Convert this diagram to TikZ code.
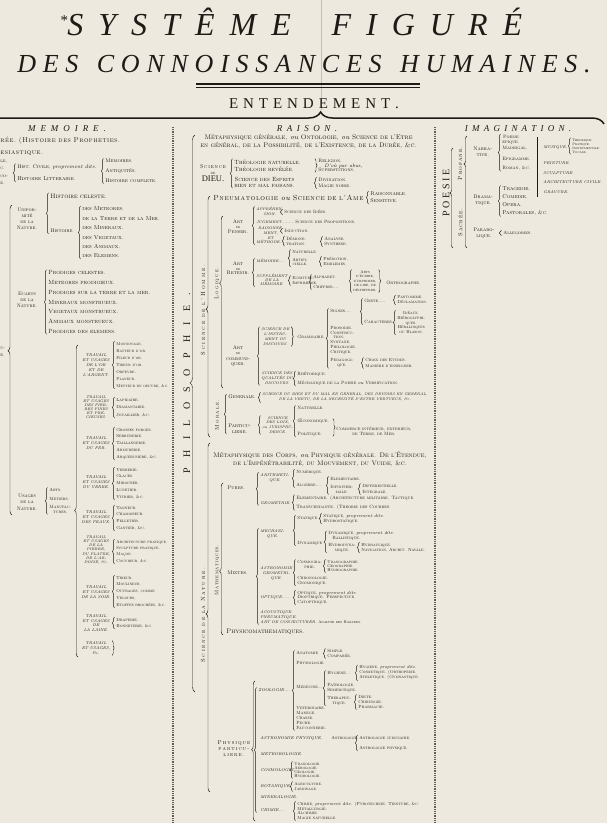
\documentclass[tikz,border=0pt]{standalone}
\usepackage{fontspec}
\newfontfamily\tms{Liberation Serif}
\usetikzlibrary{calc,decorations.pathreplacing}
\definecolor{paper}{RGB}{237,233,222}
\definecolor{ink}{RGB}{30,26,22}
\definecolor{fold}{RGB}{196,189,176}

\ExplSyntaxOn
\NewDocumentCommand \spaced { O{0.3em} m m }
  {
    \seq_set_split:Nnn \l_tmpa_seq { ~ } { #3 }
    \seq_clear:N \l_tmpb_seq
    \seq_map_inline:Nn \l_tmpa_seq
      {
        \tl_clear:N \l_tmpa_tl
        \tl_map_inline:nn { ##1 } { \tl_put_right:Nn \l_tmpa_tl { ####1 \hspace{#2} } }
        \seq_put_right:NV \l_tmpb_seq \l_tmpa_tl
      }
    \seq_use:Nn \l_tmpb_seq { \hspace{#1} }
    \unskip
  }
\ExplSyntaxOff

\newcommand\pdit[1]{{\normalfont\itshape #1}}

\tikzset{
  lft/.style={anchor=west, inner sep=0.2pt, text=ink},
  lblk/.style={lft, align=left},
  cblk/.style={lft, align=center},
  ctr/.style={anchor=center, align=center, inner sep=0.2pt, text=ink},
  scf/.style 2 args={font=\fontsize{#1}{#2}\selectfont\scshape},
  itf/.style 2 args={font=\fontsize{#1}{#2}\selectfont\itshape},
  br/.style={decorate, decoration={brace, amplitude=#1}, draw=ink, line width=0.45pt},
  br/.default=2,
  sepline/.style={draw=ink!70, line width=1.4pt, dash pattern=on 0.9pt off 0.9pt},
}

% brace opening to the right, from the top of #2 to the bottom of #3
\newcommand\brc[3][0.5]{\draw[br,decoration={aspect=#1}]
  ($(#2.north west |- #3.south)+(-1.6,0.6)$) -- ($(#2.north west)+(-1.6,-0.6)$);}
% closing brace after #1
\newcommand\brcr[2]{\draw[br]
  ($(#1.north east)+(1.6,-0.6)$) -- ($(#1.north east |- #2.south)+(1.6,0.6)$);}

\begin{document}
\begin{tikzpicture}[x=1pt,y=-1pt]
\fill[paper] (0,0) rectangle (607,823);
\useasboundingbox (0,0) rectangle (607,823);
\clip (0,0) rectangle (607,823);

% title
\draw[fold, line width=0.6pt] (321,0) -- (321,110);
\node[anchor=base, text=ink, font=\fontsize{32}{32}\selectfont\tms\itshape] (sys) at (291,35)
  {{\fontsize{15}{15}\selectfont\raisebox{10pt}{*}}\spaced[0.8em]{0.47em}{SYSTÊME FIGURÉ}};
\node[anchor=base, text=ink, font=\fontsize{26}{26}\selectfont\tms\itshape] (dcon) at (304,72)
  {\spaced[0.45em]{0.26em}{DES CONNOISSANCES HUMAINES.}};
\draw[ink, line width=1.1pt] (196,84) -- (420,84);
\draw[ink, line width=0.5pt] (196,87.2) -- (420,87.2);
\node[anchor=base, text=ink, font=\fontsize{15}{15}\selectfont\tms] (ente) at (314,108)
  {\spaced{0.33em}{ENTENDEMENT.}};
\draw[ink, line width=1.5pt, decorate, decoration={brace, amplitude=12pt, aspect=0.56}]
  (-40,124) -- (604,124);

\node[anchor=base, text=ink, font=\fontsize{9}{9}\selectfont\tms\itshape] (memt) at (67,131) {\spaced{0.55em}{MEMOIRE.}};
\node[anchor=base, text=ink, font=\fontsize{9}{9}\selectfont\tms\itshape] (rait) at (307,131) {\spaced{0.5em}{RAISON.}};
\node[anchor=base, text=ink, font=\fontsize{9}{9}\selectfont\tms\itshape] (imat) at (518,131) {\spaced{0.47em}{IMAGINATION.}};

\draw[sepline] (173,127) -- (173,823);
\draw[sepline] (435,127) -- (435,823);

% ---------------- MEMOIRE
\node[lft, scf={7}{8}] (proph) at (0,141) {\spaced[2.2pt]{0.5pt}{rée. (Histoire des Propheties.}};
\node[lft, scf={7}{8}] (eccl) at (0,153) {\spaced{0.5pt}{esiastique.}};
\node[lft, scf={4.8}{5}] (frl) at (0,162) {le,};
\node[lft, scf={4.8}{5}] (frc) at (0,168) {c.};
\node[lft, scf={4.8}{5}] (frco) at (0,176) {co-};
\node[lft, scf={4.8}{5}] (fre) at (0,183) {e.};
\node[lft, scf={5.2}{6}] (hciv) at (17,167) {Hist. Civile, \pdit{proprement dite.}};
\node[lft, scf={5.6}{6}] (hlit) at (17,179) {Histoire Litteraire.};
\brc{hciv}{hlit}
\node[lblk, scf={5.3}{9.8}] (memr) at (105,171) {Memoires.\\Antiquités.\\Histoire complete.};
\brc{memr}{memr}

\node[ctr, scf={5}{6}] (unif) at (27,219) {Unifor-\\mité\\de la\\Nature.};
\node[lft, scf={6.4}{7}] (hcel) at (50,196) {Histoire celeste.};
\node[lft, scf={5.2}{6}] (hist) at (50,231) {Histoire};
\brc{hcel}{hist}
\node[lblk, scf={5.7}{9.4}] (hnat) at (82,232.5)
  {des Meteores.\\de la Terre et de la Mer.\\des Mineraux.\\des Vegetaux.\\des Animaux.\\des Elemens.};
\brc{hnat}{hnat}

\node[ctr, scf={5}{6}] (ecar) at (27,300) {Ecarts\\de la\\Nature.};
\node[lblk, scf={6}{9.7}] (prod) at (48,302)
  {Prodiges celestes.\\Meteores prodigieux.\\Prodiges sur la terre et la mer.\\Mineraux monstrueux.\\Vegetaux monstrueux.\\Animaux monstrueux.\\Prodiges des elemens.};
\brc{prod}{prod}

\node[lft, scf={4.8}{5}] (hnu) at (0,348) {u-};
\node[lft, scf={4.8}{5}] (hne) at (0,355) {e.};
\coordinate (hnT) at (12,205);
\coordinate (hnB) at (12,515);
\draw[br=4, decoration={aspect=0.53}] (hnB) -- (hnT);

\node[ctr, scf={5}{6.5}] (usag) at (27,502) {Usages\\de la\\Nature.};
\node[lft, scf={4.5}{5}] (arts) at (49,490) {Arts.};
\node[lft, scf={4.5}{5}] (meti) at (49,499) {Metiers.};
\node[cblk, scf={4.5}{4.6}] (manu) at (49,509.5) {Manufac-\\tures.};
\brc{arts}{manu}
\coordinate (trT) at (78,345);
\coordinate (trB) at (78,657);
\draw[br=3.5, decoration={aspect=0.47}] (trB) -- (trT);

\node[ctr, itf={4}{5}] (tor) at (96,365) {TRAVAIL\\ET USAGES\\DE L'OR\\ET DE\\L'ARGENT.};
\node[lblk, scf={4.2}{7}] (lor) at (116,365)
  {Monnoyage.\\Batteur d'or.\\Fileur d'or.\\Tireur d'or.\\Orfevre.\\Planeur.\\Metteur en oeuvre, \&c.};
\brc{lor}{lor}
\node[ctr, itf={3.8}{4.1}] (tpi) at (96,407) {TRAVAIL\\ET USAGES\\DES PIER-\\RES FINES\\ET PRE-\\CIEUSES.};
\node[lblk, scf={4.4}{7.5}] (lpi) at (116,407.5) {Lapidaire.\\Diamantaire.\\Jouaillier, \&c.};
\brc{lpi}{lpi}
\node[ctr, itf={4}{5}] (tfe) at (96,443) {TRAVAIL\\ET USAGES\\DU FER.};
\node[lblk, scf={4.4}{6.75}] (lfe) at (116,443.5)
  {Grosses forges.\\Serrurerie.\\Taillanderie.\\Armurerie.\\Arquebusiere, \&c.};
\brc{lfe}{lfe}
\node[ctr, itf={4}{5}] (tve) at (96,482) {TRAVAIL\\ET USAGES\\DU VERRE.};
\node[lblk, scf={4.4}{6.75}] (lve) at (116,483.5) {Verrerie.\\Glaces.\\Miroitier.\\Lunetier.\\Vitrier, \&c.};
\brc{lve}{lve}
\node[ctr, itf={4}{5}] (tpe) at (96,517) {TRAVAIL\\ET USAGES\\DES PEAUX.};
\node[lblk, scf={4.4}{6.7}] (lpe) at (116,518) {Tanneur.\\Chamoiseur.\\Pelletier.\\Gantier, \&c.};
\brc{lpe}{lpe}
\node[ctr, itf={3.8}{4.3}] (tpr) at (96,550) {TRAVAIL\\ET USAGES\\DE LA\\PIERRE,\\DU PLATRE,\\DE L'AR-\\DOISE, \&c.};
\node[lblk, scf={4.2}{6.3}] (lpr) at (116,551.5) {Architecture pratique.\\Sculpture pratique.\\Maçon.\\Couvreur, \&c.};
\brc{lpr}{lpr}
\node[ctr, itf={4}{5}] (tso) at (96,592) {TRAVAIL\\ET USAGES\\DE LA SOIE.};
\node[lblk, scf={4.3}{6.75}] (lso) at (116,591.5) {Tireur.\\Moulineur.\\Ouvrages, comme\\Velours,\\Etoffes brochées, \&c.};
\brc{lso}{lso}
\node[ctr, itf={4}{4.7}] (tla) at (96,623) {TRAVAIL\\ET USAGES\\DE\\LA LAINE.};
\node[lblk, scf={4.4}{6}] (lla) at (116,623) {Draperie.\\Bonneterie, \&c.};
\brc{lla}{lla}
\node[ctr, itf={4}{5}] (tetc) at (96,648) {TRAVAIL\\ET USAGES,\\\&c.};
\brcr{tetc}{tetc}

% ---------------- RAISON
\node[ctr, rotate=90, font=\fontsize{10}{10}\selectfont\tms] (philo) at (187,383) {\spaced[0.4em]{10.3pt}{PHILOSOPHIE.}};
\coordinate (phT) at (195,135);
\coordinate (phB) at (195,692);
\draw[br=5, decoration={aspect=0.555}] (phB) -- (phT);

\node[cblk, scf={6.7}{7.2}] (meta) at (200,141.5)
  {Métaphysique générale, \pdit{ou} Ontologie, \pdit{ou} Science de l'Etre\\en général, de la Possibilité, de l'Existence, de la Durée, \&c.};
\node[ctr, scf={5.5}{6.5}] (sdieu) at (213,173)
  {\spaced{0.8pt}{Science}\\{\fontsize{4}{5}\selectfont de}\\{\normalfont\tms\fontsize{8.5}{8}\selectfont DIEU.}};
\node[lblk, scf={6}{7}] (theo) at (234,165.5) {Théologie naturelle.\\Théologie revélée.};
\node[cblk, scf={6}{6}] (espr) at (234,182) {Science des Esprits\\bien et mal faisans.};
\brc{theo}{espr}
\node[lblk, scf={5}{4.6}] (relg) at (318,165.5) {Religion,\\\hspace*{6pt}\pdit{D'où par abus,}\\Superstitions.};
\draw[br] ($(relg.north west)+(-3,0)$) -- ($(relg.south west)+(-3,0)$);
\node[lblk, scf={5}{6}] (divn) at (318,183) {Divination.\\Magie noire.};
\brc{divn}{divn}

\node[ctr, rotate=90, scf={6}{6}] (sdho) at (203,310) {\spaced[2pt]{1.8pt}{Science de l'Homme.}};
\coordinate (shT) at (210,196);
\coordinate (shB) at (210,437);
\draw[br=4, decoration={aspect=0.53}] (shB) -- (shT);
\node[lft, scf={7.4}{8}] (pneu) at (213,198) {\spaced{0.6pt}{Pneumatologie} \pdit{ou} \spaced[2pt]{0.6pt}{Science de l'Ame}};
\node[lblk, scf={5.5}{7}] (rsen) at (370,197.5) {Raisonnable.\\Sensitive.};
\brc{rsen}{rsen}

\node[ctr, rotate=90, scf={5.5}{6}] (logi) at (217,283) {\spaced{1.2pt}{Logique.}};
\coordinate (lgT) at (223,216);
\coordinate (lgB) at (223,388);
\draw[br=3.5, decoration={aspect=0.61}] (lgB) -- (lgT);

\node[ctr, scf={5.2}{5}] (apen) at (238,227) {Art\\{\fontsize{3.6}{5}\selectfont de}\\Penser.};
\node[cblk, itf={3.8}{4.6}] (appr) at (256,211.5) {APPRÉHEN-\\SION.};
\node[lft, itf={3.8}{4.6}] (jug) at (256,222) {JUGEMENT.........};
\node[cblk, itf={3.8}{4.6}] (rmet) at (256,235.5) {RAISONNE-\\MENT,\\ET\\MÉTHODE....};
\brc{appr}{rmet}
\node[lft, scf={4.6}{5}] (sidee) at (284,212) {Science des Idées.};
\brc{sidee}{sidee}
\node[lft, scf={4.6}{5}] (sprop) at (295,222) {Science des Propositions.};
\node[lft, scf={4.6}{5}] (indu) at (284,231) {Induction.};
\brc{indu}{indu}
\node[cblk, scf={4.6}{4.6}] (demo) at (286,241) {Démons-\\tration.};
\brc{demo}{demo}
\node[lblk, scf={4.6}{5}] (anal) at (324,241.5) {Analyse.\\Synthese.};
\brc{anal}{anal}

\node[ctr, scf={5.2}{4.6}] (aret) at (238,268.5) {Art\\{\fontsize{3.6}{4.6}\selectfont de}\\Retenir.};
\node[lft, itf={3.8}{4.6}] (memo) at (256,261) {MÉMOIRE....};
\node[cblk, itf={3.8}{4}] (supm) at (256,280) {SUPPLÉMENT\\DE LA\\MÉMOIRE.};
\brc{memo}{supm}
\node[lft, scf={4.4}{5}] (natm) at (292,252) {Naturelle.};
\node[cblk, scf={4.4}{4.6}] (artm) at (292,262) {Artifi-\\cielle.};
\brc{natm}{artm}
\node[lblk, scf={4.4}{5}] (pren) at (323,261.5) {Prénotion.\\Emblemes.};
\brc{pren}{pren}
\node[lblk, scf={4.4}{5}] (ecri) at (292,280.5) {Ecriture.\\Imprimerie.};
\brc{ecri}{ecri}
\node[lft, scf={4.4}{5}] (alph) at (313,277) {Alphabet.};
\node[lft, scf={4.4}{5}] (chif) at (313,287) {Chiffres....};
\brc{alph}{chif}
\node[cblk, scf={4}{4.5}] (adec) at (353,281) {Arts\\d'écrire,\\d'imprimer,\\de lire, de\\déchiffrer.};
\brc{adec}{adec}
\node[lft, scf={4.8}{5}] (orth) at (386,283) {Orthographe.};
\brcr{adec}{adec}

\node[ctr, scf={5.2}{5.3}] (acom) at (238,356) {Art\\{\fontsize{3.6}{5.3}\selectfont de}\\communi-\\quer.};
\node[cblk, itf={3.8}{5}] (sins) at (261,336.5) {SCIENCE DE\\L'INSTRU-\\MENT DU\\DISCOURS.};
\node[cblk, itf={3.8}{5}] (squa) at (261,378) {SCIENCE DES\\QUALITÉS DU\\DISCOURS.};
\brc{sins}{squa}
\node[lft, scf={4.6}{5}] (gram) at (297,337) {Grammaire.};
\brcr{sins}{sins}
\node[lft, scf={4.6}{5}] (sign) at (330,311) {Signes....};
\node[lblk, scf={4.5}{4.8}] (pros) at (330,340) {Prosodie.\\Construc-\\\hspace*{3pt}tion.\\Syntaxe.\\Philologie.\\Critique.};
\node[cblk, scf={4.5}{5}] (peda) at (330,363) {Pedagogi-\\que.};
\brc{sign}{peda}
\node[lft, scf={4.6}{5}] (gest) at (364,301) {Geste.....};
\node[lft, scf={4.6}{5}] (cara) at (364,322) {Caracteres...};
\brc{gest}{cara}
\node[lblk, scf={4.4}{5}] (pant) at (397,300) {Pantomime.\\Déclamation.};
\brc{pant}{pant}
\node[cblk, scf={4.3}{4.8}] (idea) at (397,322.5) {Idéaux.\\Hiéroglyphi-\\ques.\\Héraldiques\\ou Blason.};
\brc{idea}{idea}
\node[lblk, scf={4.4}{6}] (choi) at (365,363) {Choix des Etudes.\\Maniere d'enseigner.};
\brc{choi}{choi}
\node[lft, scf={4.6}{5}] (rhet) at (297,374) {Rhétorique.};
\node[lft, scf={4.6}{5}] (mech) at (297,383) {Méchanique de la Poesie \pdit{ou} Versification.};
\brc{rhet}{mech}

\node[ctr, rotate=90, scf={5.5}{6}] (mora) at (217,415) {\spaced{1.2pt}{Morale.}};
\node[lft, scf={5.3}{6}] (gene) at (228,397) {Generale.};
\node[cblk, itf={3.75}{5}] (sbien) at (262,397.5)
  {SCIENCE DU BIEN ET DU MAL EN GENERAL, DES DEVOIRS EN GENERAL,\\DE LA VERTU, DE LA NECESSITÉ D'ESTRE VERTUEUX, \&c.};
\brc{sbien}{sbien}
\node[cblk, scf={5.3}{5.5}] (part) at (228,428.5) {Particu-\\liere.};
\brc{gene}{part}
\node[cblk, itf={3.8}{4.7}] (sloi) at (262,425) {SCIENCE\\DES LOIX,\\\pdit{ou} JURISPRU-\\DENCE.};
\brc{sloi}{sloi}
\node[lft, scf={4.7}{5}] (natu) at (297,408) {Naturelle.};
\node[lft, scf={4.7}{5}] (oeco) at (297,421) {Œconomique.};
\node[lft, scf={4.7}{5}] (poli) at (297,434) {Politique.};
\brc{natu}{poli}
\node[cblk, scf={4.6}{5}] (comm) at (336,431.5) {Commerce intérieur, exterieur,\\de Terre, de Mer.};
\draw[br] ($(comm.west |- oeco.north)+(-3,0)$) -- ($(comm.west |- poli.south)+(-3,0)$);

% science de la nature
\node[ctr, rotate=90, scf={6}{6}] (sdln) at (203,615) {\spaced[2pt]{1.6pt}{Science de la Nature.}};
\coordinate (snT) at (210,443);
\coordinate (snB) at (210,792);
\draw[br=4, decoration={aspect=0.51}] (snB) -- (snT);
\node[cblk, scf={6.6}{8}] (mcor) at (213,459)
  {Métaphysique des Corps, \pdit{ou} Physique générale. De l'Étendue,\\de l'Impénétrabilité, du Mouvement, du Vuide, \&c.};

\node[ctr, rotate=90, scf={5.2}{6}] (math) at (217,570) {\spaced{0.6pt}{Mathematiques.}};
\coordinate (maT) at (223,483);
\coordinate (maB) at (223,635);
\draw[br=3.5, decoration={aspect=0.42}] (maB) -- (maT);

\node[lft, scf={5.3}{6}] (pure) at (227,488) {Pures.};
\node[cblk, itf={3.9}{5}] (arit) at (260,477.5) {ARITHMETI-\\QUE.};
\node[lft, itf={3.9}{5}] (geom) at (260,503) {GEOMETRIE.};
\brc{arit}{geom}
\node[lft, scf={4.5}{5}] (nume) at (296,472) {Numerique.};
\node[lft, scf={4.5}{5}] (alge) at (296,485) {Algebre....};
\brc{nume}{alge}
\node[lft, scf={4.5}{5}] (elem) at (330,479) {Elementaire.};
\node[cblk, scf={4.5}{5}] (infi) at (330,489.5) {Infinitesi-\\male.};
\brc{elem}{infi}
\node[lblk, scf={4.5}{6}] (diff) at (362,489) {Differentielle.\\Integrale.};
\brc{diff}{diff}
\node[lft, scf={4.7}{5}] (gel) at (296,498) {Elementaire. (Architecture militaire. Tactique.};
\node[lft, scf={4.7}{5}] (gtr) at (296,507) {Transcendante. (Theorie des Courbes.};
\brc{gel}{gtr}

\node[lft, scf={5.3}{6}] (mixt) at (227,573) {Mixtes.};
\node[cblk, itf={3.9}{5}] (mecq) at (260,533.5) {MECHANI-\\QUE.};
\node[lft, scf={4.5}{5}] (stat) at (297,518) {Statique...};
\node[lft, scf={4.5}{5}] (dyna) at (297,543) {Dynamique};
\brc{stat}{dyna}
\node[lblk, scf={4.5}{5}] (stap) at (323,518.5) {Statique, \pdit{proprement dite.}\\Hydrostatique.};
\brc{stap}{stap}
\node[lblk, scf={4.5}{4.5}] (dynp) at (328,536) {Dynamique, \pdit{proprement dite.}\\\hspace*{4pt}Ballistique.};
\node[cblk, scf={4.5}{5}] (hdyn) at (328,547.5) {Hydrodyna-\\mique.};
\brc{dynp}{hdyn}
\node[lblk, scf={4.4}{5}] (hydr) at (361,547.5) {Hydraulique.\\Navigation, Archit. Navale.};
\brc{hydr}{hydr}
\node[cblk, itf={3.9}{5}] (asge) at (260,573) {ASTRONOMIE\\GEOMETRI-\\QUE.};
\node[cblk, scf={4.5}{5}] (cosg) at (297,564.5) {Cosmogra-\\phie.};
\node[lblk, scf={4.5}{5}] (chro) at (297,580.5) {Chronologie.\\Gnomonique.};
\brc{cosg}{chro}
\node[lblk, scf={4.2}{4.2}] (uran) at (327,566) {Uranographie.\\Geographie.\\Hydrographie.};
\brc{uran}{uran}
\node[lft, itf={3.9}{5}] (opti) at (260,597) {OPTIQUE.....};
\node[lblk, scf={4.5}{4.6}] (optp) at (297,597.5) {Optique, \pdit{proprement dite.}\\Dioptrique. Perspective.\\Catoptrique.};
\brc{optp}{optp}
\node[lblk, itf={3.9}{5}] (acou) at (260,617) {ACOUSTIQUE.\\PNEUMATIQUE.\\ART DE CONJECTURER. {\normalfont\scshape Analyse des Hazards.}};
\brc{mecq}{acou}
\node[lft, scf={6.6}{7}] (phma) at (226,632) {Physicomathematiques.};

% physique particuliere
\node[ctr, scf={5.7}{6}] (phpa) at (234,749) {\spaced{1pt}{Physique}\\\spaced{1pt}{particu-}\\\spaced{1pt}{liere.}};
\coordinate (ppT) at (255,681);
\coordinate (ppB) at (255,821);
\draw[br=3.5, decoration={aspect=0.51}] (ppB) -- (ppT);
\node[lft, itf={4.1}{5}] (zool) at (258,690) {ZOOLOGIE....};
\node[lft, scf={4.5}{5}] (anat) at (296,653) {Anatomie};
\node[lblk, scf={4.5}{5}] (simp) at (327,653.5) {Simple.\\Comparée.};
\brc{simp}{simp}
\node[lft, scf={4.5}{5}] (phyl) at (296,663) {Physiologie.};
\node[lft, scf={4.5}{5}] (mede) at (296,687) {Medecine...};
\node[lblk, scf={4.5}{5}] (vete) at (296,718) {Veterinaire.\\Manege.\\Chasse.\\Peche.\\Fauconnerie.};
\brc{anat}{vete}
\node[lft, scf={4.5}{5}] (hygi) at (327,673) {Hygiene...};
\node[lblk, scf={4.5}{5}] (path) at (327,687.5) {Pathologie.\\Semeiotique.};
\node[cblk, scf={4.5}{5}] (ther) at (327,700.5) {Therapeu-\\tique.};
\brc{hygi}{ther}
\node[lblk, scf={4.3}{5}] (hygp) at (359,673) {Hygiene, \pdit{proprement dite.}\\Cosmetique. (Orthopedie.\\Athletique. (Gymnastique.};
\brc{hygp}{hygp}
\node[lblk, scf={4.5}{5}] (diet) at (358,702) {Diete.\\Chirurgie.\\Pharmacie.};
\brc{diet}{diet}
\node[lft, itf={4.1}{5}] (astp) at (260,738) {ASTRONOMIE PHYSIQUE.};
\node[lft, scf={4.5}{5}] (astr) at (331,738) {Astrologie.};
\node[lblk, scf={4.5}{10}] (astj) at (359,743) {Astrologie judiciaire.\\Astrologie physique.};
\brc{astj}{astj}
\node[lft, itf={4.1}{5}] (mete) at (260,754) {METEOROLOGIE.};
\node[lft, itf={4.1}{5}] (cosl) at (260,770) {COSMOLOGIE.};
\node[lblk, scf={4.2}{4.1}] (urol) at (294,770) {Uranologie.\\Aerologie.\\Geologie.\\Hydrologie.};
\brc{urol}{urol}
\node[lft, itf={4.1}{5}] (bota) at (260,786) {BOTANIQUE.};
\node[lblk, scf={4.2}{4.8}] (agri) at (294,786.5) {Agriculture.\\Jardinage.};
\brc{agri}{agri}
\node[lft, itf={4.1}{5}] (mine) at (260,797) {MINERALOGIE.};
\node[lft, itf={4.1}{5}] (chim) at (260,810) {CHIMIE....};
\node[lblk, scf={4.4}{4.7}] (chip) at (297,811) {Chimie, \pdit{proprement dite.} (Pyrotechnie. Teinture, \&c.\\Metallurgie.\\Alchimie.\\Magie naturelle.};
\brc{chip}{chip}
\brc{zool}{chim}

% ---------------- IMAGINATION
\node[ctr, rotate=90, font=\fontsize{10}{10}\selectfont\tms] (poes) at (446,193) {\spaced{2.6pt}{POESIE}};
\node[ctr, rotate=90, scf={6}{6}] (sacr) at (460,222.5) {\spaced{0.8pt}{Sacrée.}};
\node[ctr, rotate=90, scf={6}{6}] (prof) at (460,163.5) {\spaced{0.8pt}{Profane.}};
\coordinate (poT) at (453,148);
\coordinate (poB) at (453,248);
\draw[br=3, decoration={aspect=0.55}] (poB) -- (poT);
\coordinate (prT) at (467,136);
\coordinate (prB) at (467,248);
\draw[br=3, decoration={aspect=0.75}] (prB) -- (prT);

\node[cblk, scf={5.2}{6}] (narr) at (473,152) {Narra-\\tive.};
\node[cblk, scf={4.8}{5}] (poem) at (502,139.5) {Poeme\\epique.};
\node[lft, scf={4.8}{5}] (madr) at (502,148) {Madrigal.};
\node[lft, scf={4.8}{5}] (epig) at (502,159) {Epigramme.};
\node[lft, scf={4.8}{5}] (roma) at (502,168) {Roman, \&c.};
\brc{poem}{roma}
\coordinate (vlT) at (537,137);
\coordinate (vlB) at (537,197);
\draw[ink, line width=0.5pt] (vlT) -- (vlB);
\node[lft, itf={4}{5}] (musi) at (543,147) {MUSIQUE.};
\node[lblk, scf={3.6}{4}] (theq) at (572,146) {Theorique.\\Pratique.\\Instrumentale.\\Vocale.};
\brc{theq}{theq}
\node[lft, itf={4}{5}] (pein) at (543,163) {PEINTURE.};
\node[lft, itf={4}{5}] (sclp) at (543,173) {SCULPTURE.};
\node[lft, itf={4}{5}] (arcv) at (543,182) {ARCHITECTURE CIVILE.};
\node[lft, itf={4}{5}] (grav) at (543,192) {GRAVURE.};
\node[cblk, scf={5.2}{6}] (dram) at (473,200.5) {Drama-\\tique.};
\node[lblk, scf={5.6}{8}] (trag) at (502,201) {Tragedie.\\Comedie.\\Opera.\\Pastorales, \&c.};
\brc{trag}{trag}
\node[cblk, scf={5.2}{6}] (para) at (473,233.5) {Parabo-\\lique.};
\node[lft, scf={4.8}{5}] (alle) at (503,233) {Allegories.};
\brc{alle}{alle}
\end{tikzpicture}
\end{document}
